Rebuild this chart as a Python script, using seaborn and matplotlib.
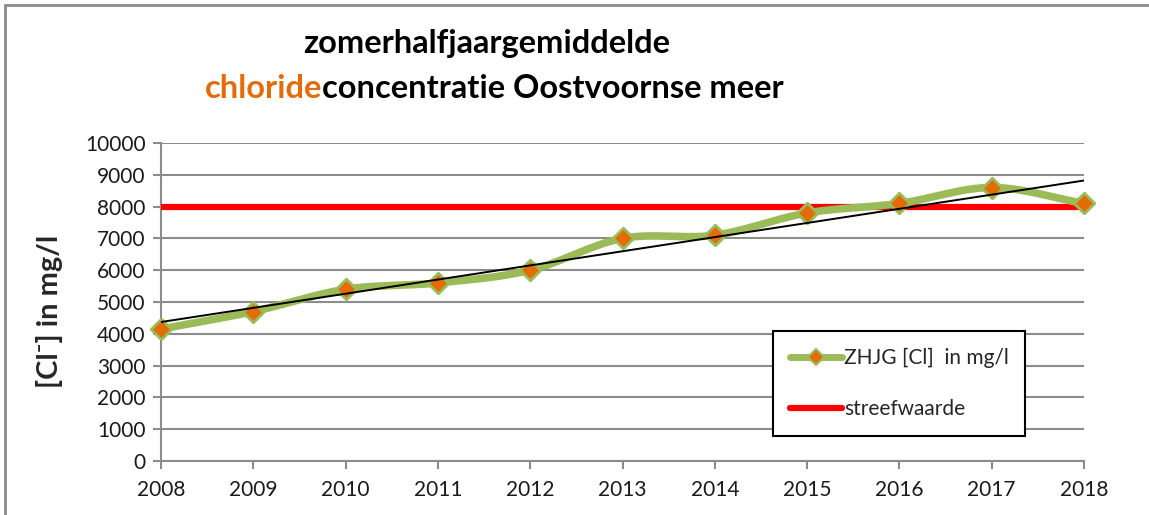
import numpy as np
import pandas as pd
import matplotlib
matplotlib.use("Agg")
import matplotlib.pyplot as plt
from matplotlib.lines import Line2D
from matplotlib.patches import Rectangle
import seaborn as sns

years = [2008, 2009, 2010, 2011, 2012, 2013, 2014, 2015, 2016, 2017, 2018]
zhjg_cl = [4150, 4700, 5400, 5600, 6000, 7000, 7100, 7800, 8100, 8600, 8100]
streefwaarde = [8000] * len(years)
y_ticks = [0, 1000, 2000, 3000, 4000, 5000, 6000, 7000, 8000, 9000, 10000]

GREEN = "#9BBB59"
ORANGE = "#E36C09"
GRID = "#8C8C8C"

sns.set_theme(style="white")
plt.rcParams["font.family"] = ["Lato", "DejaVu Sans"]

df = pd.DataFrame({"jaar": years, "cl": zhjg_cl, "streef": streefwaarde})

fig = plt.figure(figsize=(11.49, 5.15), dpi=100)
ax = fig.add_axes([161/1149, 1-461/515, (1084-161)/1149, (461-143)/515])

# outer chart frame
fig.patches.append(Rectangle((5/1149, -0.1), 1.2, (1-5/515)+0.1, transform=fig.transFigure,
                             fill=False, edgecolor="#8C8C8C", lw=2.0))

ax.set_xlim(2008, 2018)
ax.set_ylim(0, 10000)
ax.set_yticks(y_ticks)
ax.set_xticks(years)
ax.yaxis.grid(True, color=GRID, lw=1.5)
ax.set_axisbelow(True)

# streefwaarde
sns.lineplot(data=df, x="jaar", y="streef", ax=ax, color="#FF0000", lw=4.5, zorder=3)

# smoothed display curve (Catmull-Rom) through the measured points
x = np.array(years, float); y = np.array(zhjg_cl, float)
px = np.concatenate([[2*x[0]-x[1]], x, [2*x[-1]-x[-2]]])
py = np.concatenate([[2*y[0]-y[1]], y, [2*y[-1]-y[-2]]])
sx, sy = [], []
t = np.linspace(0, 1, 30)
for i in range(1, len(px)-2):
    for arr, out in ((px, sx), (py, sy)):
        p0, p1, p2, p3 = arr[i-1], arr[i], arr[i+1], arr[i+2]
        out.extend(0.5*((2*p1) + (-p0+p2)*t + (2*p0-5*p1+4*p2-p3)*t**2 + (-p0+3*p1-3*p2+p3)*t**3))
ax.plot(sx, sy, color=GREEN, lw=5.5, zorder=4, solid_capstyle="round", clip_on=False)

sns.scatterplot(data=df, x="jaar", y="cl", ax=ax, marker="D", s=110, color=ORANGE,
                edgecolor=GREEN, linewidth=2.0, zorder=5, clip_on=False)

# linear trend
sns.regplot(data=df, x="jaar", y="cl", ax=ax, scatter=False, ci=None, truncate=True,
            line_kws=dict(color="black", lw=1.4, zorder=6))

ax.set_xlabel("")
ax.set_ylabel("[Cl\u207b] in mg/l", fontsize=21, fontweight="bold")
ax.yaxis.set_label_coords(-0.106, 0.47)

for s in ["top", "right"]:
    ax.spines[s].set_visible(False)
for s in ["left", "bottom"]:
    ax.spines[s].set_color(GRID)
    ax.spines[s].set_linewidth(1.5)
ax.tick_params(axis="both", which="major", direction="out", length=6, width=1.5,
               color=GRID, labelsize=15, labelcolor="#1a1a1a")
ax.tick_params(axis="x", pad=8, bottom=True)
ax.tick_params(axis="y", pad=5, left=True)

# title
TS = 23.5
fig.text(487/1149, 1-44/515, "zomerhalfjaargemiddelde", ha="center", va="center",
         fontsize=TS, fontweight="bold", color="black")
t1 = fig.text(205/1149, 1-88/515, "chloride", ha="left", va="center",
              fontsize=TS, fontweight="bold", color=ORANGE)
fig.canvas.draw()
bb = t1.get_window_extent()
fig.text(bb.x1/1149, 1-88/515, "concentratie Oostvoornse meer", ha="left", va="center",
         fontsize=TS, fontweight="bold", color="black")

handles = [Line2D([], [], color=GREEN, lw=5, marker="D", markersize=8,
                  markerfacecolor=ORANGE, markeredgecolor=GREEN, markeredgewidth=1.5),
           Line2D([], [], color="#FF0000", lw=4.5)]
leg = ax.legend(handles, ["ZHJG [Cl]  in mg/l", "streefwaarde"], loc="upper left",
                bbox_to_anchor=((773-161)/923, (461-331)/318), fontsize=15, frameon=True,
                fancybox=False, edgecolor="black", framealpha=1, handlelength=2.5,
                handletextpad=0.1, labelspacing=1.5, borderpad=0.8, borderaxespad=0)
leg.get_frame().set_linewidth(1.5)

fig.savefig("out.png", dpi=100)
